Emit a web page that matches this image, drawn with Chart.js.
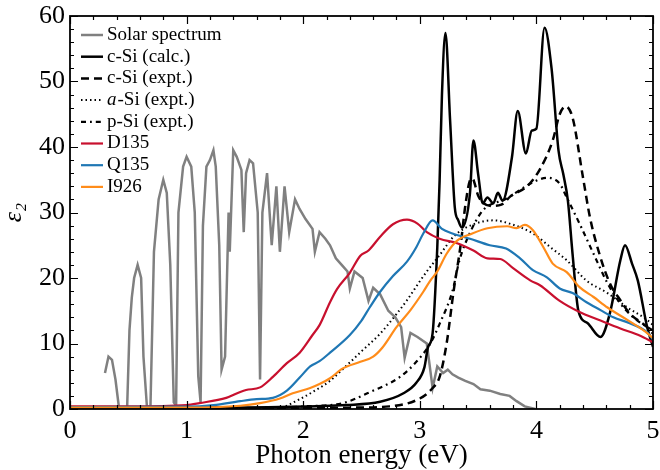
<!DOCTYPE html>
<html><head><meta charset="utf-8">
<script src="https://cdn.jsdelivr.net/npm/chart.js@4.4.0/dist/chart.umd.min.js"></script>
<style>html,body{margin:0;padding:0;background:#fff}</style>
</head><body>
<canvas id="c" width="660" height="470"></canvas>
<script>
// ---- data ----
const xTicks = [0, 1, 2, 3, 4, 5];
const yTicks = [0, 10, 20, 30, 40, 50, 60];
const seriesNames = ['Solar spectrum', 'c-Si (calc.)', 'c-Si (expt.)', 'a-Si (expt.)', 'p-Si (expt.)', 'D135', 'Q135', 'I926'];

const solarE = [0.30,0.33,0.36,0.39,0.42,0.49,0.51,0.53,0.55,0.58,0.61,0.63,0.66,0.69,0.72,0.76,0.80,0.83,0.86,0.89,0.91,0.93,0.97,1.00,1.04,1.07,1.10,1.12,1.14,1.17,1.20,1.23,1.25,1.28,1.30,1.33,1.36,1.37,1.40,1.43,1.47,1.49,1.51,1.54,1.57,1.61,1.63,1.65,1.69,1.73,1.77,1.80,1.84,1.88,1.93,1.97,2.02,2.08,2.10,2.14,2.19,2.23,2.28,2.33,2.38,2.40,2.44,2.51,2.56,2.60,2.66,2.73,2.79,2.84,2.87,2.92,2.98,3.06,3.11,3.15,3.20,3.24,3.28,3.33,3.39,3.46,3.52,3.60,3.69,3.77,3.83,3.90,3.99];
const solarV = [5.5,8.0,7.5,4.5,0.2,0.2,12,17,20,22,20,8,0.3,0.3,24,32,35,33,22,1,0.5,30,37,38.5,37,30,5,1,28,37,38,39.5,37,25,6,8,30,24,39.5,38.5,36.5,27,36,38,37.5,30,4.5,30,36,25,34,24,34,27,32,30.5,29,27.5,24,27,26,25,23,22,21,18.4,21,20,16.5,18.5,17.5,15,14,12.5,7.8,11.6,11,10,3.2,6.5,5.5,6,5.3,4.8,4.3,3.8,3.0,2.8,2.3,2.0,1.2,0.4,0];

const cSiCalcE = [0,1.0,1.8,2.37,2.66,2.86,2.97,3.04,3.07,3.11,3.15,3.17,3.19,3.22,3.26,3.30,3.33,3.36,3.43,3.46,3.50,3.54,3.58,3.63,3.67,3.71,3.79,3.84,3.91,3.96,4.00,4.07,4.13,4.19,4.23,4.27,4.31,4.36,4.44,4.55,4.63,4.72,4.76,4.82,4.87,4.95,5.0];
const cSiCalcV = [0.1,0.2,0.3,0.6,1.1,2.4,4.0,6.4,9.4,11.6,24.7,34.9,48,57.4,44,30.8,28.8,27.7,32.9,41,35.9,31.4,32.3,31.4,33,31.8,38.4,45.5,39,42.5,42.8,58.2,52,39.4,35.9,31.8,23.7,15,13.1,11,14.6,22.7,25,22.2,19.6,12.5,9.5];

const cSiExptE = [0,2.0,2.37,2.74,3.0,3.11,3.17,3.23,3.29,3.35,3.39,3.43,3.45,3.50,3.54,3.62,3.70,3.78,3.92,4.03,4.14,4.20,4.25,4.31,4.40,4.46,4.54,4.63,4.72,4.80,4.95,5.0];
const cSiExptV = [0,0.1,0.2,0.4,1.6,3.2,4.9,10,18,25,31,34.9,35.2,32.6,31.5,31,31.2,32.5,34,36.6,41,45,46.2,44.5,35.3,29.2,23.7,19.2,16.6,14.6,12.5,11.5];

const aSiE = [0,1.6,1.8,1.97,2.1,2.23,2.37,2.5,2.66,2.8,2.89,3.0,3.06,3.17,3.3,3.46,3.63,3.77,3.97,4.12,4.26,4.43,4.61,4.78,4.95,5.0];
const aSiV = [0,0.05,0.2,1.5,2.8,4.3,6.6,8.8,11.5,14.5,16.6,19.5,21,23.5,26.5,28.2,28.8,28.3,26.8,24.7,22.7,19.6,17.7,15.5,13.6,12.8];

const pSiE = [0,1.5,2.0,2.34,2.55,2.83,2.97,3.09,3.17,3.28,3.34,3.42,3.54,3.74,3.97,4.09,4.20,4.26,4.37,4.49,4.61,4.72,4.83,4.97,5.0];
const pSiV = [0,0.1,0.4,0.9,2.4,4.9,7.2,10,13,18,22.7,26.5,30.3,32.1,34.6,35.3,34.4,32.3,28.3,23.7,19.2,16.1,14,12.3,12];

const d135E = [0,0.5,1.0,1.11,1.34,1.46,1.51,1.63,1.74,1.86,1.97,2.08,2.14,2.23,2.29,2.40,2.49,2.56,2.66,2.77,2.89,2.98,3.06,3.17,3.32,3.46,3.58,3.69,3.80,3.95,4.03,4.20,4.37,4.55,4.72,4.89,5.0];
const d135V = [0.4,0.4,0.6,0.9,1.7,2.6,2.9,3.3,4.9,7,8.6,11.3,12.8,16.3,18.3,20.8,23.4,24.2,26.3,28.2,28.9,28.3,27,26,25.3,24.2,23,22.9,21.5,19.6,18.9,16.5,14.8,13.5,12.3,11.2,10.2];

const q135E = [0,1.0,1.23,1.46,1.60,1.74,1.86,1.97,2.06,2.14,2.23,2.40,2.50,2.57,2.66,2.77,2.89,2.97,3.03,3.11,3.19,3.28,3.43,3.60,3.74,3.86,3.97,4.09,4.20,4.31,4.43,4.55,4.66,4.80,4.95,5.0];
const q135V = [0.3,0.35,0.6,1.2,1.5,1.7,2.8,4.8,6.5,7.3,8.6,11.3,13.5,15.5,17.9,20.3,22.5,24.7,26.8,28.8,27.5,26.8,26,25,24.5,23,21.2,20.1,18.4,17.7,16.3,15.1,14,13.1,11.7,10.6];

const i926E = [0,1.0,1.46,1.63,1.80,1.91,2.06,2.14,2.23,2.34,2.49,2.60,2.68,2.80,2.92,3.03,3.09,3.15,3.23,3.32,3.45,3.58,3.75,3.83,3.90,3.97,4.06,4.14,4.26,4.37,4.49,4.61,4.78,4.95,5.0];
const i926V = [0.2,0.2,0.5,0.9,1.6,2.4,3.2,3.8,4.7,6.2,7.2,8.0,9.4,12.5,15.1,17.9,19.6,21,23.7,25.7,26.8,27.6,27.9,27.6,28.1,27.3,24.7,22.2,20.9,18.6,17.1,15.5,13.6,11.6,10.8];

// ---- build ----
const pts = (xs, ys) => xs.map((x, i) => ({x: x, y: ys[i]}));
const SERIF = '"Liberation Serif", "Times New Roman", serif';

const styles = [
  {c: '#808080', w: 2.5, d: [], t: 0},
  {c: '#000000', w: 2.5, d: [], t: 1},
  {c: '#000000', w: 2.5, d: [8, 5], t: 1},
  {c: '#000000', w: 2, d: [1.5, 3], t: 1},
  {c: '#000000', w: 2.2, d: [5, 4, 1.8, 4], t: 1},
  {c: '#c8102e', w: 2.2, d: [], t: 1},
  {c: '#1f77b4', w: 2.2, d: [], t: 1},
  {c: '#ff8c1a', w: 2.2, d: [], t: 1}
];
const series = [pts(solarE, solarV), pts(cSiCalcE, cSiCalcV), pts(cSiExptE, cSiExptV), pts(aSiE, aSiV), pts(pSiE, pSiV), pts(d135E, d135V), pts(q135E, q135V), pts(i926E, i926V)];

const datasets = series.map((data, i) => ({
  label: seriesNames[i],
  data: data,
  borderColor: styles[i].c,
  backgroundColor: styles[i].c,
  borderWidth: styles[i].w,
  borderDash: styles[i].d,
  borderCapStyle: 'butt',
  pointRadius: 0,
  fill: false,
  tension: 0,
  cubicInterpolationMode: styles[i].t ? 'monotone' : 'default',
  order: series.length - 1 - i
}));

const framePlugin = {
  id: 'frame',
  afterDatasetsDraw(chart) {
    const {ctx, chartArea: a, scales: {x, y}} = chart;
    ctx.save();
    ctx.strokeStyle = '#000';
    ctx.lineWidth = 1.2;
    ctx.setLineDash([]);
    ctx.beginPath();
    for (let k = 0; k <= Math.round((x.max - x.min) / 0.2); k++) {
      const v = x.min + k * 0.2;
      const px = Math.round(x.getPixelForValue(v)) + 0.5;
      const L = (k % 5 === 0) ? 8 : 4;
      ctx.moveTo(px, a.bottom); ctx.lineTo(px, a.bottom - L);
      ctx.moveTo(px, a.top); ctx.lineTo(px, a.top + L);
    }
    for (let k = 0; k <= Math.round((y.max - y.min) / 2); k++) {
      const v = y.min + k * 2;
      const py = Math.round(y.getPixelForValue(v)) + 0.5;
      const L = (k % 5 === 0) ? 8 : 4;
      ctx.moveTo(a.left, py); ctx.lineTo(a.left + L, py);
      ctx.moveTo(a.right, py); ctx.lineTo(a.right - L, py);
    }
    ctx.stroke();
    ctx.lineWidth = 1.8;
    ctx.strokeRect(a.left, a.top, a.right - a.left, a.bottom - a.top);
    ctx.restore();
  }
};

const legendPlugin = {
  id: 'customLegend',
  afterDraw(chart) {
    const {ctx, chartArea: a} = chart;
    ctx.save();
    const x0 = a.left + 11, x1 = a.left + 33, tx = a.left + 37;
    chart.data.datasets.forEach((ds, i) => {
      const yy = a.top + 19 + i * 21.7;
      ctx.strokeStyle = ds.borderColor;
      ctx.lineWidth = ds.borderWidth;
      ctx.setLineDash(ds.borderDash || []);
      ctx.lineCap = 'butt';
      ctx.beginPath(); ctx.moveTo(x0, yy); ctx.lineTo(x1, yy); ctx.stroke();
      ctx.setLineDash([]);
      ctx.fillStyle = '#000';
      ctx.textBaseline = 'middle';
      ctx.textAlign = 'left';
      const label = ds.label;
      if (label.startsWith('a-')) {
        ctx.font = 'italic 19px ' + SERIF;
        ctx.fillText('a', tx, yy);
        const w = ctx.measureText('a').width;
        ctx.font = '19px ' + SERIF;
        ctx.fillText(label.slice(1), tx + w + 1, yy);
      } else {
        ctx.font = '19px ' + SERIF;
        ctx.fillText(label, tx, yy);
      }
    });
    ctx.restore();
  }
};

new Chart(document.getElementById('c'), {
  type: 'line',
  data: {datasets: datasets},
  options: {
    responsive: false,
    animation: false,
    events: [],
    layout: {padding: {top: 16, right: 7, left: 0, bottom: 0}},
    plugins: {legend: {display: false}, tooltip: {enabled: false}, title: {display: false}},
    scales: {
      x: {
        type: 'linear', min: xTicks[0], max: xTicks[xTicks.length - 1],
        grid: {display: false, drawTicks: false},
        border: {display: false},
        afterFit: s => { s.height = 61; s.paddingLeft = 0; s.paddingRight = 0; },
        afterBuildTicks: s => { s.ticks = xTicks.map(v => ({value: v})); },
        ticks: {color: '#000', font: {family: SERIF, size: 26}, padding: 7, maxRotation: 0, autoSkip: false,
                callback: v => String(v)},
        title: {display: true, text: 'Photon energy (eV)', color: '#000',
                font: {family: SERIF, size: 27, lineHeight: 1.0}, padding: {top: 0, bottom: 1}}
      },
      y: {
        type: 'linear', min: yTicks[0], max: yTicks[yTicks.length - 1],
        grid: {display: false, drawTicks: false},
        border: {display: false},
        afterFit: s => { s.width = 70; s.paddingTop = 0; s.paddingBottom = 0; },
        afterBuildTicks: s => { s.ticks = yTicks.map(v => ({value: v})); },
        ticks: {color: '#000', font: {family: SERIF, size: 26}, padding: 5, callback: v => String(v)},
        title: {display: true, text: 'ε₂', color: '#000',
                font: {family: SERIF, size: 26, style: 'italic', lineHeight: 1.0}, padding: {top: 1, bottom: 0}}
      }
    }
  },
  plugins: [framePlugin, legendPlugin]
});
</script>
</body></html>
